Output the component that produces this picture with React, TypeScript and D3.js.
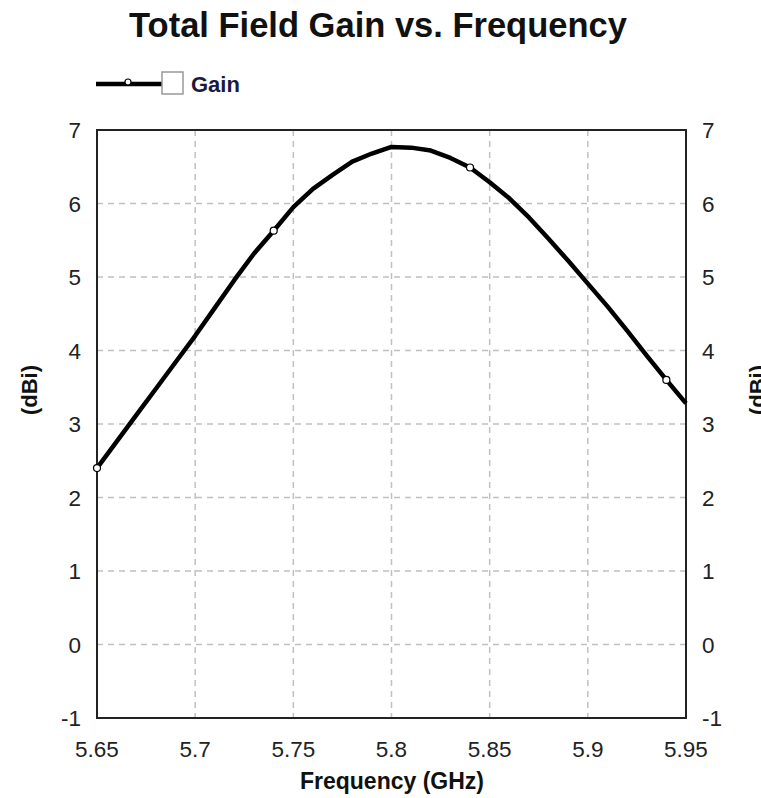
import React, { useEffect, useRef } from "react";
import * as d3 from "d3";

// Total field gain (dBi) sampled every 10 MHz
const freqGHz = [
  5.65, 5.66, 5.67, 5.68, 5.69, 5.7, 5.71, 5.72, 5.73, 5.74, 5.75,
  5.76, 5.77, 5.78, 5.79, 5.8, 5.81, 5.82, 5.83, 5.84, 5.85,
  5.86, 5.87, 5.88, 5.89, 5.9, 5.91, 5.92, 5.93, 5.94, 5.95,
];
const gainDBi = [
  2.4, 2.76, 3.12, 3.48, 3.84, 4.2, 4.58, 4.96, 5.32, 5.63, 5.95,
  6.2, 6.39, 6.57, 6.68, 6.77, 6.76, 6.72, 6.62, 6.49, 6.29,
  6.07, 5.81, 5.52, 5.22, 4.91, 4.6, 4.27, 3.93, 3.6, 3.28,
];
// Samples that carry a marker symbol
const markerFreqs = [5.65, 5.74, 5.84, 5.94];

const xTicks = [5.65, 5.7, 5.75, 5.8, 5.85, 5.9, 5.95];
const yTicks = [-1, 0, 1, 2, 3, 4, 5, 6, 7];

const title = "Total Field Gain vs. Frequency";
const xTitle = "Frequency (GHz)";
const yTitle = "(dBi)";
const seriesName = "Gain";

const W = 761;
const H = 798;
const FONT = "'Liberation Sans', Arial, sans-serif";

export default function App() {
  const ref = useRef<SVGSVGElement>(null);

  useEffect(() => {
    const svg = d3.select(ref.current);
    svg.selectAll("*").remove();

    const left = 97, right = 686, top = 130, bottom = 718;
    const x = d3.scaleLinear().domain([5.65, 5.95]).range([left, right]);
    const y = d3.scaleLinear().domain([-1, 7]).range([bottom, top]);

    svg.append("rect").attr("width", W).attr("height", H).attr("fill", "#fff");

    // grid
    const grid = svg.append("g")
      .attr("stroke", "#c0c0c0")
      .attr("stroke-width", 1.5)
      .attr("stroke-dasharray", "6,5");
    xTicks.slice(1, -1).forEach((t) => {
      grid.append("line")
        .attr("x1", x(t)).attr("x2", x(t))
        .attr("y1", top).attr("y2", bottom);
    });
    yTicks.slice(1, -1).forEach((t) => {
      grid.append("line")
        .attr("x1", left).attr("x2", right)
        .attr("y1", y(t)).attr("y2", y(t));
    });

    // frame
    svg.append("rect")
      .attr("x", left).attr("y", top)
      .attr("width", right - left).attr("height", bottom - top)
      .attr("fill", "none").attr("stroke", "#222").attr("stroke-width", 2);

    // tick labels
    const tickFont = 22.5;
    svg.append("g").selectAll("text").data(yTicks).join("text")
      .attr("x", left - 16).attr("y", (d) => y(d))
      .attr("dy", "0.36em").attr("text-anchor", "end")
      .attr("font-family", FONT).attr("font-size", tickFont).attr("fill", "#222")
      .text((d) => String(d));
    svg.append("g").selectAll("text").data(yTicks).join("text")
      .attr("x", right + 16).attr("y", (d) => y(d))
      .attr("dy", "0.36em").attr("text-anchor", "start")
      .attr("font-family", FONT).attr("font-size", tickFont).attr("fill", "#222")
      .text((d) => String(d));
    svg.append("g").selectAll("text").data(xTicks).join("text")
      .attr("x", (d) => x(d)).attr("y", 757)
      .attr("text-anchor", "middle")
      .attr("font-family", FONT).attr("font-size", tickFont).attr("fill", "#222")
      .text((d) => String(d));

    // titles
    svg.append("text")
      .attr("x", 378).attr("y", 37).attr("text-anchor", "middle")
      .attr("font-family", FONT).attr("font-size", 34.5).attr("font-weight", "bold")
      .attr("fill", "#111").text(title);
    svg.append("text")
      .attr("x", 392).attr("y", 789).attr("text-anchor", "middle")
      .attr("font-family", FONT).attr("font-size", 23).attr("font-weight", "bold")
      .attr("fill", "#111").text(xTitle);
    svg.append("text")
      .attr("transform", "translate(37,390) rotate(-90)").attr("text-anchor", "middle")
      .attr("font-family", FONT).attr("font-size", 22).attr("font-weight", "bold")
      .attr("fill", "#111").text(yTitle);
    svg.append("text")
      .attr("transform", "translate(765,390) rotate(-90)").attr("text-anchor", "middle")
      .attr("font-family", FONT).attr("font-size", 22).attr("font-weight", "bold")
      .attr("fill", "#111").text(yTitle);

    // series line
    const pts: [number, number][] = freqGHz.map((f, i) => [f, gainDBi[i]]);
    const line = d3.line<[number, number]>()
      .x((d) => x(d[0])).y((d) => y(d[1]));
    svg.append("path").datum(pts)
      .attr("d", line)
      .attr("fill", "none").attr("stroke", "#000")
      .attr("stroke-width", 4.5).attr("stroke-linejoin", "round");

    const markerPts = pts.filter((p) => markerFreqs.some((m) => Math.abs(m - p[0]) < 1e-6));
    svg.append("g").selectAll("circle").data(markerPts).join("circle")
      .attr("cx", (d) => x(d[0])).attr("cy", (d) => y(d[1]))
      .attr("r", 3.5).attr("fill", "#fff").attr("stroke", "#000").attr("stroke-width", 1.2);

    // legend
    const lg = svg.append("g");
    lg.append("line").attr("x1", 96).attr("x2", 162).attr("y1", 84).attr("y2", 84)
      .attr("stroke", "#000").attr("stroke-width", 4.5);
    lg.append("circle").attr("cx", 128).attr("cy", 82).attr("r", 3)
      .attr("fill", "#fff").attr("stroke", "#000").attr("stroke-width", 1.2);
    lg.append("rect").attr("x", 162).attr("y", 72).attr("width", 21).attr("height", 22)
      .attr("fill", "#fff").attr("stroke", "#999").attr("stroke-width", 1.5);
    lg.append("text").attr("x", 191).attr("y", 92)
      .attr("font-family", FONT).attr("font-size", 22).attr("font-weight", "bold")
      .attr("fill", "#1a1a40").text(seriesName);
  }, []);

  return (
    <svg
      ref={ref}
      width={W}
      height={H}
      style={{ position: "absolute", left: 0, top: 0, display: "block" }}
    />
  );
}
